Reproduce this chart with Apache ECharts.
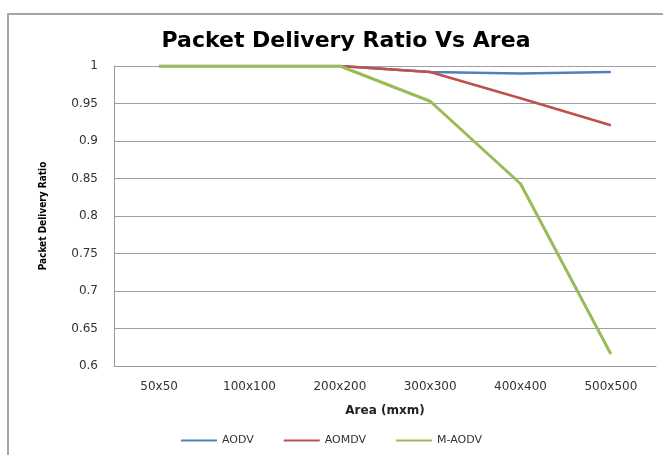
<!DOCTYPE html>
<html>
<head>
<meta charset="utf-8">
<script src="https://cdn.jsdelivr.net/npm/echarts@6/dist/echarts.min.js"></script>
<style>
  html, body { margin: 0; padding: 0; background: #fff; }
  #main { width: 663px; height: 455px; }
</style>
</head>
<body>
<div id="main"></div>
<script>
var areas = ['50x50', '100x100', '200x200', '300x300', '400x400', '500x500'];
var aodv = [1, 1, 1, 0.992, 0.990, 0.992];
var aomdv = [1, 1, 1, 0.992, 0.957, 0.921];
var maodv = [1, 1, 1, 0.953, 0.843, 0.616];

var chart = echarts.init(document.getElementById('main'));

function line(name, data, color, width) {
    return {
        name: name,
        type: 'line',
        data: data,
        symbol: 'none',
        lineStyle: { color: color, width: width },
        itemStyle: { color: color }
    };
}

var option = {
    animation: false,
    graphic: [{
        type: 'rect',
        shape: { x: 8, y: 14, width: 700, height: 500 },
        style: { fill: 'none', stroke: '#a6a6a6', lineWidth: 2 }
    }],
    title: {
        text: 'Packet Delivery Ratio Vs Area',
        left: 341,
        textAlign: 'center',
        top: 25,
        textStyle: { fontFamily: 'DejaVu Sans', fontWeight: 'bold', fontSize: 22, color: '#000' }
    },
    legend: {
        bottom: 4,
        left: 'center',
        icon: 'rect',
        itemWidth: 36,
        itemHeight: 2,
        itemGap: 30,
        textStyle: { fontFamily: 'DejaVu Sans', fontSize: 11, color: '#333' },
        data: ['AODV', 'AOMDV', 'M-AODV']
    },
    grid: { left: 114, top: 66, right: 7, bottom: 89 },
    xAxis: {
        type: 'category',
        data: areas,
        name: 'Area (mxm)',
        nameLocation: 'middle',
        nameGap: 39,
        nameTextStyle: { fontFamily: 'DejaVu Sans', fontWeight: 'bold', fontSize: 12, color: '#222' },
        axisLine: { lineStyle: { color: '#999', width: 1 } },
        axisTick: { show: false },
        axisLabel: { margin: 15, fontFamily: 'DejaVu Sans', fontSize: 12, color: '#333' }
    },
    yAxis: {
        type: 'value',
        min: 0.6,
        max: 1,
        interval: 0.05,
        name: 'Packet Delivery Ratio',
        nameLocation: 'middle',
        nameGap: 66,
        nameTextStyle: { fontFamily: 'DejaVu Sans Condensed, DejaVu Sans', fontWeight: 'bold', fontSize: 10, color: '#000' },
        axisLine: { show: true, lineStyle: { color: '#999', width: 1 } },
        axisTick: { show: false },
        splitLine: { lineStyle: { color: '#a0a0a0', width: 1 } },
        axisLabel: {
            margin: 16, fontFamily: 'DejaVu Sans', fontSize: 12, color: '#333',
            formatter: function (v) { return String(Math.round(v * 100) / 100); }
        }
    },
    series: [
        line('AODV', aodv, '#4f81bd', 2.5),
        line('AOMDV', aomdv, '#c0504d', 2.5),
        line('M-AODV', maodv, '#9bbb59', 3)
    ]
};
chart.setOption(option);
</script>
</body>
</html>
